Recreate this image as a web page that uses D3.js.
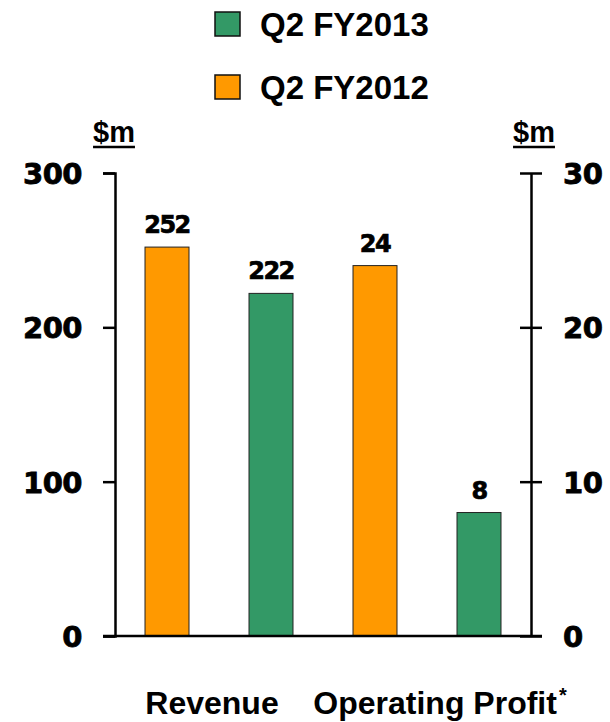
<!DOCTYPE html>
<html>
<head>
<meta charset="utf-8">
<script src="https://cdn.jsdelivr.net/npm/d3@7"></script>
<style>
  html, body { margin: 0; padding: 0; background: #fff; }
  svg { display: block; }
</style>
</head>
<body>
<svg id="chart" width="610" height="722"></svg>
<script>
// Metrics along the x axis and the two periods compared for each
const metrics = ["Revenue", "Operating Profit"];
const seriesNames = ["Q2 FY2012", "Q2 FY2013"];
const legendOrder = ["Q2 FY2013", "Q2 FY2012"];
const seriesColors = ["#FF9900", "#339966"];

// $m values: revenue read on the left axis, operating profit on the right axis
const fy2012Values = [252, 24];
const fy2013Values = [222, 8];

const leftTicks = [0, 100, 200, 300];
const rightTicks = [0, 10, 20, 30];

const svg = d3.select("#chart");

const plotLeft = 115, plotRight = 531, plotTop = 173, plotBottom = 636;
const numFont = "'DejaVu Sans', Verdana, sans-serif";
const textFont = "'Liberation Sans', Arial, sans-serif";

const x0 = d3.scaleBand().domain(metrics).range([plotLeft, plotRight]).padding(0);
const x1 = d3.scaleBand().domain(seriesNames).range([0, x0.bandwidth()])
  .paddingInner(0.577).paddingOuter(0.2885);
const yLeft = d3.scaleLinear().domain([0, 300]).range([plotBottom, plotTop]);
const yRight = d3.scaleLinear().domain([0, 30]).range([plotBottom, plotTop]);
const color = d3.scaleOrdinal().domain(seriesNames).range(seriesColors);

const rows = [];
metrics.forEach((m, i) => {
  rows.push({ metric: m, series: seriesNames[0], value: fy2012Values[i], y: i === 0 ? yLeft : yRight });
  rows.push({ metric: m, series: seriesNames[1], value: fy2013Values[i], y: i === 0 ? yLeft : yRight });
});

// Bars
svg.append("g").selectAll("rect").data(rows).join("rect")
  .attr("x", d => x0(d.metric) + x1(d.series))
  .attr("y", d => d.y(d.value))
  .attr("width", x1.bandwidth())
  .attr("height", d => plotBottom - d.y(d.value))
  .attr("fill", d => color(d.series))
  .attr("stroke", "#222")
  .attr("stroke-width", 1);

// Value labels
svg.append("g").selectAll("text").data(rows).join("text")
  .attr("x", d => x0(d.metric) + x1(d.series) + x1.bandwidth() / 2)
  .attr("y", d => d.y(d.value) - 14)
  .attr("text-anchor", "middle")
  .attr("font-family", numFont)
  .attr("font-weight", "bold")
  .attr("font-size", 24)
  .attr("letter-spacing", -1.5)
  .attr("fill", "#000")
  .attr("stroke", "#000").attr("stroke-width", 0.7)
  .text(d => d.value);

function styleTickText(sel) {
  sel.attr("font-family", numFont)
    .attr("font-weight", "bold").attr("font-size", 29).attr("fill", "#000")
    .attr("stroke", "#000").attr("stroke-width", 0.8)
    .attr("letter-spacing", -0.5)
    .attr("dy", "0.36em");
}

// Left axis
const leftAxis = d3.axisLeft(yLeft).tickValues(leftTicks).tickSize(12).tickPadding(21);
const gl = svg.append("g").attr("transform", `translate(${plotLeft},0)`).call(leftAxis);
gl.select(".domain").attr("stroke", "#000").attr("stroke-width", 2.5);
gl.selectAll(".tick line").attr("stroke", "#000").attr("stroke-width", 2.5);
gl.selectAll(".tick text").call(styleTickText);

// Right axis: ticks cross the axis line
const rightAxis = d3.axisRight(yRight).tickValues(rightTicks).tickSizeInner(11).tickSizeOuter(0).tickPadding(21);
const gr = svg.append("g").attr("transform", `translate(${plotRight},0)`).call(rightAxis);
gr.select(".domain").attr("stroke", "#000").attr("stroke-width", 2.5);
gr.selectAll(".tick line").attr("stroke", "#000").attr("stroke-width", 2.5).attr("x1", -11);
gr.selectAll(".tick text").call(styleTickText);

// Baseline
svg.append("line")
  .attr("x1", plotLeft - 12).attr("x2", plotRight + 11)
  .attr("y1", yLeft(0)).attr("y2", yLeft(0))
  .attr("stroke", "#000").attr("stroke-width", 2.5);

// Unit labels above each axis
[{ x: 114, t: "$m" }, { x: 534, t: "$m" }].forEach(u => {
  const t = svg.append("text")
    .attr("x", u.x).attr("y", 142)
    .attr("text-anchor", "middle")
    .attr("font-family", textFont)
    .attr("font-weight", "bold").attr("font-size", 29)
    .attr("fill", "#000")
    .text(u.t);
  const bb = t.node().getBBox();
  svg.append("line")
    .attr("x1", bb.x).attr("x2", bb.x + bb.width)
    .attr("y1", 147).attr("y2", 147)
    .attr("stroke", "#000").attr("stroke-width", 2.5);
});

// Category labels
const catOffsets = [-7, 13];
metrics.forEach((m, i) => {
  const t = svg.append("text")
    .attr("x", x0(m) + x0.bandwidth() / 2 + catOffsets[i])
    .attr("y", 714)
    .attr("text-anchor", "middle")
    .attr("font-family", textFont)
    .attr("font-weight", "bold").attr("font-size", 32)
    .attr("fill", "#000")
    .text(m);
  if (i === 1) {
    t.append("tspan").attr("font-size", 20).attr("dy", -12).attr("dx", 2).text("*");
  }
});

// Legend
const legend = svg.append("g");
legendOrder.forEach((s, i) => {
  const gy = 12 + i * 63;
  legend.append("rect")
    .attr("x", 215).attr("y", gy).attr("width", 25).attr("height", 24)
    .attr("fill", color(s)).attr("stroke", "#111").attr("stroke-width", 1.5);
  legend.append("text")
    .attr("x", 260).attr("y", gy + 24)
    .attr("font-family", textFont)
    .attr("font-weight", "bold").attr("font-size", 33)
    .attr("fill", "#000")
    .text(s);
});
</script>
</body>
</html>
